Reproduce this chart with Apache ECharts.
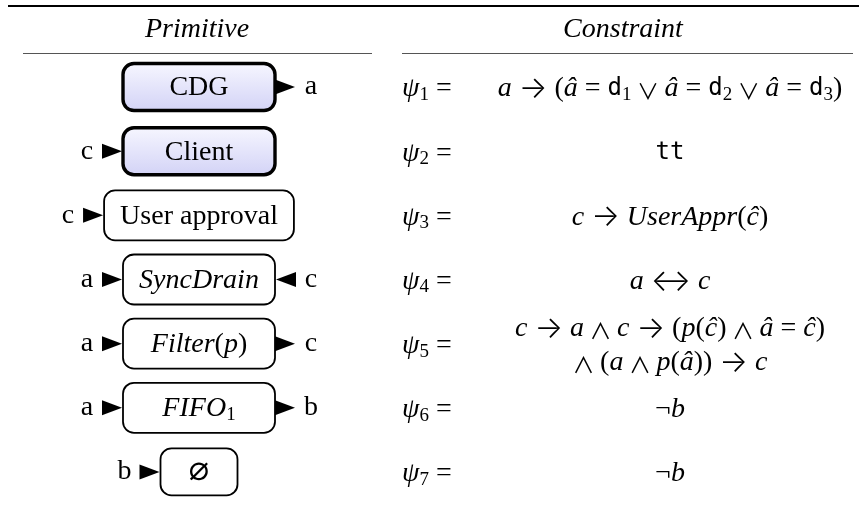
<!DOCTYPE html>
<html>
<head>
<meta charset="utf-8">
<title>Primitives and constraints</title>
<script src="https://cdn.jsdelivr.net/npm/echarts@6/dist/echarts.min.js"></script>
<style>
    html, body { margin: 0; padding: 0; background: #fff; }
    #chart { width: 859px; height: 509px; }
</style>
</head>
<body>
<div id="chart"></div>
<script>
// table contents, one entry per row
var rowKeys = ['cdg', 'client', 'approval', 'syncdrain', 'filter', 'fifo', 'empty'];
var primLabels = ['CDG', 'Client', 'User approval', '{it|SyncDrain}', '{it|Filter}{rm|(}{it|p}{rm|)}', '{it|FIFO}{sub|1}', '{nil|∅}'];
var primKinds = ['component', 'component', 'channel', 'channel', 'channel', 'channel', 'void'];
var leftPorts = ['', 'c', 'c', 'a', 'a', 'a', 'b'];
var rightPorts = ['a', '', '', 'c', 'c', 'b', ''];
var rightDirs = ['out', '', '', 'in', 'out', 'out', ''];
var psiLabels = [
    '{it|ψ}{sub|1}{rm| =}', '{it|ψ}{sub|2}{rm| =}', '{it|ψ}{sub|3}{rm| =}', '{it|ψ}{sub|4}{rm| =}',
    '{it|ψ}{sub|5}{rm| =}', '{it|ψ}{sub|6}{rm| =}', '{it|ψ}{sub|7}{rm| =}'
];
var constraints = [
    '{it|a}{rm| }{arr|→}{rm| (}{it|â}{rm| = }{tt|d}{sub|1}{sp| }{op|∨}{sp| }{it|â}{rm| = }{tt|d}{sub|2}{sp| }{op|∨}{sp| }{it|â}{rm| = }{tt|d}{sub|3}{rm|)}',
    '{tt|tt}',
    '{it|c}{rm| }{arr|→}{rm| }{it|UserAppr}{rm|(}{it|ĉ}{rm|)}',
    '{it|a}{rm| }{arr|↔}{rm| }{it|c}',
    '{it|c}{rm| }{arr|→}{rm| }{it|a}{sp| }{op|∧}{sp| }{it|c}{rm| }{arr|→}{rm| (}{it|p}{rm|(}{it|ĉ}{rm|)}{sp| }{op|∧}{sp| }{it|â}{rm| = }{it|ĉ}{rm|)}\n'
        + '{op|∧}{sp| }{rm|(}{it|a}{sp| }{op|∧}{sp| }{it|p}{rm|(}{it|â}{rm|)) }{arr|→}{rm| }{it|c}',
    '{rm|¬}{it|b}',
    '{rm|¬}{it|b}'
];
var headers = ['Primitive', 'Constraint'];

var SERIF = '"Liberation Serif", "DejaVu Serif", serif';
var MONO = '"DejaVu Sans Mono", "Liberation Mono", monospace';
var ARROWS = 'Inter, "DejaVu Sans", sans-serif';
var SYMB = '"Noto Sans CJK JP", "DejaVu Sans", sans-serif';
var BODY_FONT = '28px ' + SERIF;

// layout (pixels, the x axis runs 0..859 one to one)
var LAYOUT = {
    primX: 199,
    psiX: 402,
    formX: 670,
    rightDy: 2,
    boxPad: 16,
    triW: 20,
    triH: 15,
    portGap: 15
};

var RICH = {
    rm: { fontFamily: SERIF, fontSize: 28, lineHeight: 34, fill: '#000' },
    sp: { fontFamily: SERIF, fontSize: 22, lineHeight: 34, fill: '#000' },
    it: { fontFamily: SERIF, fontStyle: 'italic', fontSize: 28, lineHeight: 34, fill: '#000' },
    tt: { fontFamily: MONO, fontSize: 24, lineHeight: 34, fill: '#000' },
    arr: { fontFamily: ARROWS, fontSize: 30, fontWeight: 300, lineHeight: 34, fill: '#000' },
    op: { fontFamily: SYMB, fontSize: 22, lineHeight: 34, padding: [4, 0, 0, 0], fill: '#000' },
    nil: { fontFamily: MONO, fontSize: 34, lineHeight: 34, fill: '#000' },
    sub: { fontFamily: SERIF, fontSize: 19, lineHeight: 20, padding: [12, 0, 0, 0], fill: '#000' }
};

var kindStyle = {
    component: {
        minW: 152, h: 47, lw: 3.4,
        fill: new echarts.graphic.LinearGradient(0, 0, 0, 1, [
            { offset: 0, color: '#f7f7ff' },
            { offset: 1, color: '#d2d2f6' }
        ])
    },
    channel: { minW: 152, h: 50, lw: 1.8, fill: '#fff' },
    void: { minW: 77, h: 47, lw: 1.8, fill: '#fff' }
};

var measureCtx = document.createElement('canvas').getContext('2d');
function textWidth(markup) {
    measureCtx.font = BODY_FONT;
    return measureCtx.measureText(markup.replace(/\{\w+\|([^}]*)\}/g, '$1')).width;
}

function portLabel(text, x, y) {
    return {
        type: 'text',
        style: { text: text, x: x, y: y, font: BODY_FONT, fill: '#000', align: 'center', verticalAlign: 'middle', textAlign: 'center', textVerticalAlign: 'middle' }
    };
}

function triangle(tipX, baseX, y) {
    var h = LAYOUT.triH / 2;
    return {
        type: 'polygon',
        shape: { points: [[baseX, y - h], [tipX, y], [baseX, y + h]] },
        style: { fill: '#000' }
    };
}

function renderPrimitive(params, api) {
    var i = api.value(0);
    var c = api.coord([LAYOUT.primX, i]);
    var ks = kindStyle[primKinds[i]];
    var w = Math.max(ks.minW, textWidth(primLabels[i]) + 2 * LAYOUT.boxPad);
    var x0 = c[0] - w / 2, x1 = c[0] + w / 2;
    var children = [{
        type: 'rect',
        shape: { x: x0, y: c[1] - ks.h / 2, width: w, height: ks.h, r: 11 },
        style: { fill: ks.fill, stroke: '#000', lineWidth: ks.lw }
    }, {
        type: 'text',
        style: {
            text: primLabels[i], x: c[0], y: c[1] + 1, font: BODY_FONT, fill: '#000', lineHeight: 34,
            align: 'center', verticalAlign: 'middle', textAlign: 'center', textVerticalAlign: 'middle',
            rich: RICH
        }
    }];
    if (leftPorts[i]) {
        children.push(triangle(x0 - 1, x0 - 1 - LAYOUT.triW, c[1]));
        children.push(portLabel(leftPorts[i], x0 - 1 - LAYOUT.triW - LAYOUT.portGap, c[1]));
    }
    if (rightPorts[i]) {
        if (rightDirs[i] === 'in') {
            children.push(triangle(x1 + 1, x1 + 1 + LAYOUT.triW, c[1]));
        } else {
            children.push(triangle(x1 + LAYOUT.triW, x1, c[1]));
        }
        children.push(portLabel(rightPorts[i], x1 + LAYOUT.triW + LAYOUT.portGap + 1, c[1]));
    }
    return { type: 'group', children: children };
}

function renderConstraint(params, api) {
    var i = api.value(0);
    var p = api.coord([LAYOUT.psiX, i]);
    var f = api.coord([LAYOUT.formX, i]);
    return {
        type: 'group',
        children: [{
            type: 'text',
            style: {
                text: psiLabels[i], x: p[0], y: p[1] + LAYOUT.rightDy, font: BODY_FONT, fill: '#000',
                align: 'left', verticalAlign: 'middle', textAlign: 'left', textVerticalAlign: 'middle', rich: RICH
            }
        }, {
            type: 'text',
            style: {
                text: constraints[i], x: f[0], y: f[1] + LAYOUT.rightDy, font: BODY_FONT, fill: '#000',
                align: 'center', verticalAlign: 'middle', textAlign: 'center', textVerticalAlign: 'middle', rich: RICH
            }
        }]
    };
}

var myChart = echarts.init(document.getElementById('chart'), null, { renderer: 'canvas' });

var rowData = rowKeys.map(function (k, i) {
    return { name: k, value: [i] };
});

option = {
    animation: false,
    backgroundColor: '#fff',
    grid: { left: 0, right: 0, top: 55, bottom: 5 },
    xAxis: { type: 'value', min: 0, max: 859, show: false },
    yAxis: { type: 'category', data: rowKeys, inverse: true, show: false },
    graphic: [
        { type: 'line', shape: { x1: 8, y1: 6, x2: 859, y2: 6 }, style: { stroke: '#000', lineWidth: 2 } },
        { type: 'line', shape: { x1: 23, y1: 53.5, x2: 372, y2: 53.5 }, style: { stroke: '#555', lineWidth: 1 } },
        { type: 'line', shape: { x1: 402, y1: 53.5, x2: 853, y2: 53.5 }, style: { stroke: '#555', lineWidth: 1 } },
        {
            type: 'text', x: 197, y: 30,
            style: { text: headers[0], font: 'italic 28px ' + SERIF, fill: '#000', align: 'center', verticalAlign: 'middle', textAlign: 'center', textVerticalAlign: 'middle' }
        },
        {
            type: 'text', x: 623, y: 30,
            style: { text: headers[1], font: 'italic 28px ' + SERIF, fill: '#000', align: 'center', verticalAlign: 'middle', textAlign: 'center', textVerticalAlign: 'middle' }
        }
    ],
    series: [{
        type: 'custom',
        name: 'primitives',
        data: rowData,
        encode: { y: 0 },
        renderItem: renderPrimitive,
        silent: true
    }, {
        type: 'custom',
        name: 'constraints',
        data: rowData,
        encode: { y: 0 },
        renderItem: renderConstraint,
        silent: true
    }]
};

myChart.setOption(option);
</script>
</body>
</html>
